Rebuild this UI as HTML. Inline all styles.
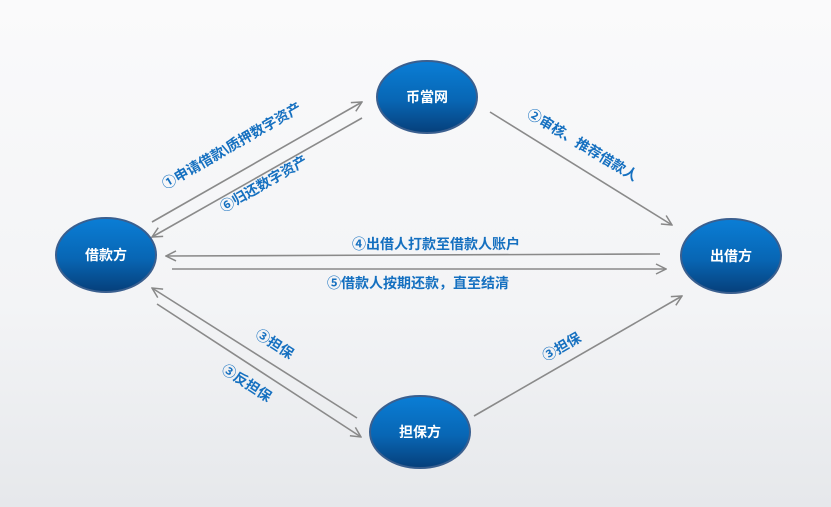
<!DOCTYPE html>
<html><head><meta charset="utf-8"><style>
html,body{margin:0;padding:0;width:831px;height:507px;overflow:hidden;background:#f3f4f6}
text{font-family:"Liberation Sans","Noto Sans CJK SC",sans-serif;font-weight:bold}
</style></head><body>
<svg width="831" height="507" viewBox="0 0 831 507" xmlns="http://www.w3.org/2000/svg">
<defs>
<linearGradient id="bg" x1="0" y1="0" x2="0" y2="1">
<stop offset="0" stop-color="#fafafb"/><stop offset="0.6" stop-color="#f3f4f6"/><stop offset="1" stop-color="#e6e8eb"/>
</linearGradient>
<linearGradient id="el" x1="0" y1="0" x2="0" y2="1">
<stop offset="0" stop-color="#0a7ed6"/><stop offset="0.55" stop-color="#0866b4"/><stop offset="1" stop-color="#063f7a"/>
</linearGradient>
<marker id="a" viewBox="0 0 12 12" refX="11" refY="6" markerWidth="12" markerHeight="12" markerUnits="userSpaceOnUse" orient="auto">
<path d="M1,1 L11,6 L1,11" fill="none" stroke="#888" stroke-width="1.5"/>
</marker>
</defs>
<rect width="831" height="507" fill="url(#bg)"/>
<g stroke="#8a8a8a" stroke-width="1.6" fill="none" marker-end="url(#a)">
<line x1="152" y1="222" x2="362" y2="102"/>
<line x1="362" y1="118" x2="152" y2="237"/>
<line x1="490" y1="112" x2="672" y2="225"/>
<line x1="660" y1="254" x2="166" y2="256"/>
<line x1="172" y1="269" x2="666" y2="269"/>
<line x1="357" y1="418" x2="152" y2="288"/>
<line x1="157" y1="304" x2="361" y2="437"/>
<line x1="474" y1="416" x2="682" y2="296"/>
</g>
<g stroke="#3a5f8f" stroke-width="2" fill="url(#el)">
<ellipse cx="427" cy="97" rx="50" ry="36"/>
<ellipse cx="106" cy="255" rx="50" ry="37"/>
<ellipse cx="731" cy="256" rx="50" ry="37"/>
<ellipse cx="420" cy="432" rx="50" ry="36"/>
</g>
<g fill="#fff" font-size="14" text-anchor="middle">
<text x="427" y="102">币當网</text>
<text x="106" y="260">借款方</text>
<text x="731" y="261">出借方</text>
<text x="420" y="437">担保方</text>
</g>
<g fill="#1570c0" font-size="14" text-anchor="middle">
<text transform="translate(234,150) rotate(-30)">①申请借款\质押数字资产</text>
<text transform="translate(266,188) rotate(-30)">⑥归还数字资产</text>
<text transform="translate(580,149) rotate(31)">②审核、推荐借款人</text>
<text x="436" y="249">④出借人打款至借款人账户</text>
<text x="418" y="288">⑤借款人按期还款，直至结清</text>
<text transform="translate(272,348) rotate(33)">③担保</text>
<text transform="translate(244,387) rotate(33)">③反担保</text>
<text transform="translate(564,351) rotate(-30)">③担保</text>
</g>
</svg>
</body></html>
